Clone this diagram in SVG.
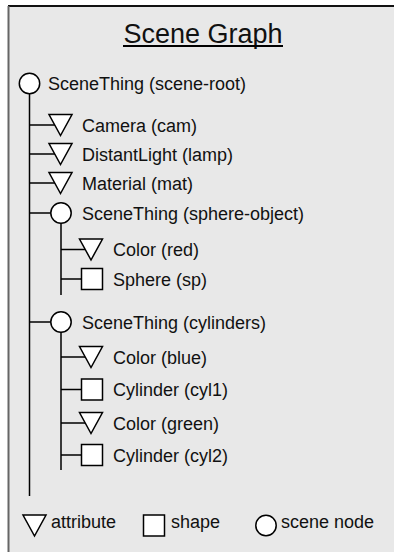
<svg xmlns="http://www.w3.org/2000/svg" width="394" height="552" viewBox="0 0 394 552">
<style>
text{font-family:"Liberation Sans",Arial,sans-serif;font-size:18px;fill:#111}
.title{font-size:27px;text-anchor:middle}
.sh{fill:#fff;stroke:#000;stroke-width:1.5}
.ln{stroke:#000;stroke-width:1.5;fill:none}
</style>
<defs>
<polygon id="tri" points="-11.5,-10.5 11.5,-10.5 0,10.5" class="sh"/>
<rect id="sq" x="-10.5" y="-10.5" width="21" height="21" class="sh"/>
<circle id="cir" r="10.2" class="sh"/>
</defs>
<rect x="0" y="0" width="394" height="552" fill="#fff"/>
<rect x="8" y="6" width="390" height="550" fill="#e8e8e8"/>
<line x1="8" y1="6" x2="394" y2="6" stroke="#111" stroke-width="2"/>
<line x1="8.5" y1="6" x2="8.5" y2="552" stroke="#666" stroke-width="2"/>
<g id="title">
<text class="title" x="203" y="43">Scene Graph</text>
<line x1="123" y1="46" x2="283" y2="46" stroke="#000" stroke-width="2"/>
</g>
<g id="connectors" class="ln">
<line x1="29.5" y1="94" x2="29.5" y2="496"/>
<line x1="29.5" y1="125" x2="54.8" y2="125"/>
<line x1="29.5" y1="154" x2="54.8" y2="154"/>
<line x1="29.5" y1="183" x2="54.8" y2="183"/>
<line x1="29.5" y1="213" x2="51" y2="213"/>
<line x1="29.5" y1="322" x2="51" y2="322"/>
<line x1="61" y1="223" x2="61" y2="295"/>
<line x1="61" y1="249.5" x2="85" y2="249.5"/>
<line x1="61" y1="279" x2="81.5" y2="279"/>
<line x1="61" y1="332" x2="61" y2="470"/>
<line x1="61" y1="357" x2="85" y2="357"/>
<line x1="61" y1="389.5" x2="81.5" y2="389.5"/>
<line x1="61" y1="423" x2="85" y2="423"/>
<line x1="61" y1="455" x2="81.5" y2="455"/>
</g>
<g id="scene-root"><use href="#cir" x="29.5" y="83.5"/><text x="48" y="90">SceneThing (scene-root)</text></g>
<g id="cam"><use href="#tri" x="60.5" y="125"/><text x="82" y="131.5">Camera (cam)</text></g>
<g id="lamp"><use href="#tri" x="60.5" y="154"/><text x="82" y="160.5">DistantLight (lamp)</text></g>
<g id="mat"><use href="#tri" x="60.5" y="183"/><text x="82" y="189.5">Material (mat)</text></g>
<g id="sphere-object"><use href="#cir" x="61" y="213"/><text x="82" y="219.5">SceneThing (sphere-object)</text></g>
<g id="red"><use href="#tri" x="91" y="249.5"/><text x="113" y="256">Color (red)</text></g>
<g id="sp"><use href="#sq" x="92" y="279"/><text x="113" y="285.5">Sphere (sp)</text></g>
<g id="cylinders"><use href="#cir" x="61" y="322"/><text x="82" y="328.5">SceneThing (cylinders)</text></g>
<g id="blue"><use href="#tri" x="91" y="357"/><text x="113" y="363.5">Color (blue)</text></g>
<g id="cyl1"><use href="#sq" x="92" y="389.5"/><text x="113" y="396">Cylinder (cyl1)</text></g>
<g id="green"><use href="#tri" x="91" y="423"/><text x="113" y="429.5">Color (green)</text></g>
<g id="cyl2"><use href="#sq" x="92" y="455"/><text x="113" y="461.5">Cylinder (cyl2)</text></g>
<g id="legend">
<use href="#tri" x="34.5" y="525.5"/><text x="51" y="528">attribute</text>
<use href="#sq" x="154" y="525.5"/><text x="171" y="528">shape</text>
<use href="#cir" x="266" y="525.5"/><text x="281" y="528">scene node</text>
</g>
</svg>
